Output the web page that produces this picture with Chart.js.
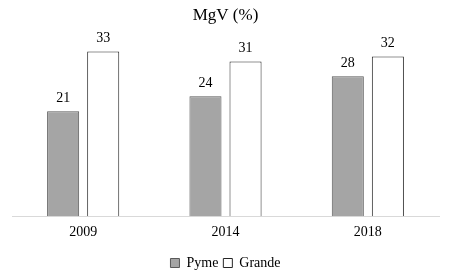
<!DOCTYPE html>
<html>
<head>
<meta charset="utf-8">
<script src="https://cdn.jsdelivr.net/npm/chart.js@4/dist/chart.umd.min.js"></script>
<style>
html,body{margin:0;padding:0;background:#fff;}
#wrap{width:450px;height:275px;}
</style>
</head>
<body>
<div id="wrap"><canvas id="c" width="450" height="275"></canvas></div>
<script>
const categories = ["2009", "2014", "2018"];
const pymeValues = [21, 24, 28];
const grandeValues = [33, 31, 32];
const seriesNames = ["Pyme", "Grande"];
const chartTitle = "MgV (%)";

const FONT = "'Liberation Serif', 'Times New Roman', serif";
Chart.defaults.font.family = FONT;
Chart.defaults.color = '#000';

const valueLabels = {
  id: 'valueLabels',
  afterDatasetsDraw(chart) {
    const ctx = chart.ctx;
    ctx.save();
    ctx.font = "14px " + FONT;
    ctx.fillStyle = "#000";
    ctx.textAlign = "center";
    ctx.textBaseline = "bottom";
    chart.data.datasets.forEach((ds, i) => {
      const meta = chart.getDatasetMeta(i);
      meta.data.forEach((bar, j) => {
        ctx.fillText(String(ds.data[j]), bar.x, bar.y - 6);
      });
    });
    ctx.restore();
  }
};

new Chart(document.getElementById('c'), {
  type: 'bar',
  data: {
    labels: categories,
    datasets: [
      {label: seriesNames[0], data: pymeValues, backgroundColor: '#a5a5a5', borderColor: '#595959', borderWidth: 1},
      {label: seriesNames[1], data: grandeValues, backgroundColor: '#ffffff', borderColor: '#262626', borderWidth: 1}
    ]
  },
  options: {
    responsive: false,
    animation: false,
    devicePixelRatio: 1,
    categoryPercentage: 0.563,
    barPercentage: 0.8,
    layout: {padding: {left: 12, right: 11, top: 0, bottom: -5}},
    plugins: {
      title: {display: true, text: chartTitle, color: '#000', font: {family: FONT, size: 17, weight: 'normal'}, padding: {top: 5, bottom: 16}},
      legend: {
        position: 'bottom',
        labels: {color: '#000', font: {family: FONT, size: 14}, boxWidth: 9, boxHeight: 9, padding: 5}
      },
      tooltip: {enabled: false}
    },
    scales: {
      x: {
        grid: {display: false},
        border: {color: '#d9d9d9', width: 1},
        ticks: {color: '#000', font: {family: FONT, size: 14}, padding: 0},
        afterFit(scale) { scale.height += 10; }
      },
      y: {display: false, min: 0, max: 35}
    }
  },
  plugins: [valueLabels]
});
</script>
</body>
</html>
